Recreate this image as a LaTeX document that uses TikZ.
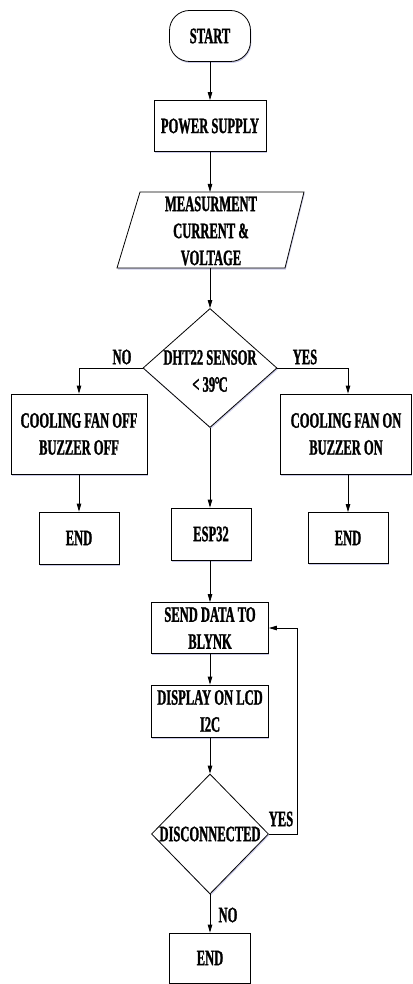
\documentclass[tikz,border=0pt]{standalone}
\usepackage{fontspec}
\setmainfont{Liberation Serif}[FakeStretch=0.57, FakeBold=1.2]
\usetikzlibrary{arrows.meta,shapes.geometric,shadows}
\begin{document}
\begin{tikzpicture}[x=1pt,y=-1pt,
  every node/.style={font=\fontsize{22}{27}\selectfont\bfseries, align=center, inner sep=0pt},
  shade/.style={drop shadow={shadow xshift=0.8pt, shadow yshift=-1.5pt, fill=blue!40!gray, opacity=0.3}},
  box/.style={draw, line width=0.8pt, fill=white, shade, rectangle},
  dia/.style={draw, line width=0.8pt, fill=white, shade, diamond, aspect=1},
  arr/.style={-{Triangle[length=8pt,width=4.5pt]}, line width=0.8pt},
  ln/.style={line width=0.8pt},
]
\useasboundingbox (0,0) rectangle (412,984);

% START
\node[box, rounded corners=20pt, minimum width=81pt, minimum height=51pt] (start) at (210,36) {START};
% POWER SUPPLY
\node[box, minimum width=112pt, minimum height=51pt] (power) at (210,126) {POWER SUPPLY};
% MEASUREMENT parallelogram
\coordinate (mtl) at (140,192);
\coordinate (mtr) at (304,192);
\coordinate (mbr) at (285,268);
\coordinate (mbl) at (117,268);
\coordinate (mtop) at (210,192);
\coordinate (mbot) at (210,268);
\draw[ln, fill=white, shade] (mtl) -- (mtr) -- (mbr) -- (mbl) -- cycle;
\node (meas) at (211,231) {MEASURMENT\\CURRENT \&\\VOLTAGE};
% DHT22 decision
\node[dia, minimum width=134pt, minimum height=119pt] (dht) at (210,368) {};
\node (dhtt) at (210,371) {DHT22 SENSOR\\< 39\kern-0.5pt°\kern-1pt C};
% branches
\node[box, minimum width=136pt, minimum height=80pt] (off) at (79,434) {COOLING FAN OFF\\BUZZER OFF};
\node[box, minimum width=131pt, minimum height=80pt] (on) at (346,434) {COOLING FAN ON\\BUZZER ON};
\node[box, minimum width=80pt, minimum height=52pt] (endl) at (79,538) {END};
\node[box, minimum width=80pt, minimum height=52pt] (esp) at (211,534) {ESP32};
\node[box, minimum width=80pt, minimum height=51pt] (endr) at (348,538) {END};
% lower column
\node[box, minimum width=117pt, minimum height=51pt] (send) at (210,628) {SEND DATA TO\\BLYNK};
\node[box, minimum width=117pt, minimum height=52pt] (disp) at (210,711) {DISPLAY ON LCD\\I2C};
\node[dia, minimum width=117pt, minimum height=120pt] (disc) at (210,834) {};
\node (disct) at (210,834) {DISCONNECTED};
\node[box, minimum width=81pt, minimum height=50pt] (endb) at (210,958) {END};

% labels
\node (no1) at (122,357) {NO};
\node (yes1) at (305,357) {YES};
\node (yes2) at (281,819) {YES};
\node (no2) at (228,915) {NO};

% connectors
\draw[arr] (start.south) -- (power.north);
\draw[arr] (power.south) -- (mtop);
\draw[arr] (mbot) -- (dht.north);
\draw[arr] (dht.west) -| (off.north);
\draw[arr] (dht.east) -| (endr.north |- on.north);
\draw[arr] (off.south) -- (endl.north);
\draw[arr] (endr.north |- on.south) -- (endr.north);
\draw[arr] (dht.south) -- (esp.north -| dht.south);
\draw[arr] (esp.south -| send.north) -- (send.north);
\draw[arr] (send.south) -- (disp.north);
\draw[arr] (disp.south) -- (disc.north);
\draw[arr] (disc.east) -- ++(28,0) |- (send.east);
\draw[arr] (disc.south) -- (endb.north);
\end{tikzpicture}
\end{document}
